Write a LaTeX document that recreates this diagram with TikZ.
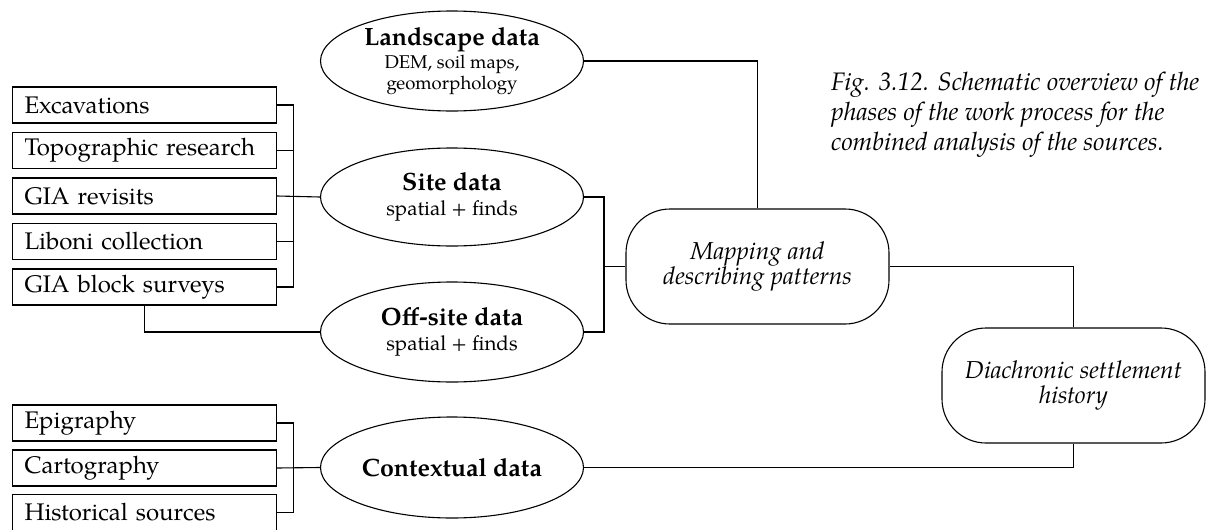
\documentclass[tikz,border=0pt]{standalone}
\usepackage{fontspec}
\setmainfont{TeX Gyre Pagella}
\usetikzlibrary{shapes.geometric}
\tikzset{
  line/.style={line width=1.1pt},
  srcbox/.style={draw, line width=1.1pt, minimum height=36pt, text width=240pt, inner xsep=12pt, inner ysep=0pt, align=left, anchor=west, font=\fontsize{24}{26}\selectfont},
  dataell/.style={draw, ellipse, line width=1.1pt, minimum width=263pt, minimum height=100pt, inner sep=0pt, align=center},
  phase/.style={draw, rectangle, rounded corners=44pt, line width=1.1pt, minimum width=263pt, minimum height=115pt, inner sep=0pt, align=center, font=\fontsize{24.5}{25}\selectfont\itshape},
}
\newcommand{\ttlfont}{\fontsize{25}{25}\selectfont\bfseries}
\newcommand{\subfont}{\fontsize{20.5}{25}\selectfont}
\begin{document}
\begin{tikzpicture}[x=1pt,y=-1pt]
\useasboundingbox (0,0) rectangle (1208,530);
% source boxes
\node[srcbox] (exc)  at (12,105) {Excavations};
\node[srcbox] (topo) at (12,150.5) {Topographic research};
\node[srcbox] (gia)  at (12,196) {GIA revisits};
\node[srcbox] (lib)  at (12,241.5) {Liboni collection};
\node[srcbox] (gbs)  at (12,287) {GIA block surveys};
\node[srcbox] (epi)  at (12,423) {Epigraphy};
\node[srcbox] (cart) at (12,468) {Cartography};
\node[srcbox] (hist) at (12,512.5) {Historical sources};
% data ellipses
\node[dataell, font=\fontsize{18.5}{21}\selectfont] (land) at (452,61) {{\ttlfont Landscape data}\\[2pt]DEM, soil maps,\\geomorphology};
\node[dataell, minimum height=98pt, font=\subfont] (site) at (452,197) {{\ttlfont Site data}\\spatial + finds};
\node[dataell, font=\subfont] (off) at (452,332) {{\ttlfont Off-site data}\\spatial + finds};
\node[dataell, minimum height=101pt] (ctx) at (452,467.5) {{\ttlfont Contextual data}};
% phases
\node[phase] (map) at (757.5,266.5) {Mapping and\\describing patterns};
\node[phase] (dia) at (1073.5,385.5) {Diachronic settlement\\history};
% caption
\node[anchor=north west, align=left, inner sep=0pt, font=\fontsize{25.3}{30}\selectfont\itshape] (cap) at (831,72) {Fig. 3.12. Schematic overview of the\\phases of the work process for the\\combined analysis of the sources.};
% connectors
\draw[line] (exc.east) -- ++(16,0) coordinate (b1) |- (gbs.east);
\draw[line] (topo.east) -- (topo.east -| b1);
\draw[line] (lib.east) -- (lib.east -| b1);
\draw[line] (gia.east) -- (site.west);
\draw[line] (gbs.south) |- (off.west);
\coordinate (jr) at (604,266.5);
\draw[line] (site.east) -| (jr) |- (off.east);
\draw[line] (jr) -- (map.west);
\draw[line] (land.east) -| (map.north);
\draw[line] (map.east) -| (dia.north);
\draw[line] (ctx.east) -| (dia.south);
\draw[line] (epi.east) -- ++(16,0) coordinate (b2) |- (hist.east);
\draw[line] (cart.east) -- (ctx.west);
\end{tikzpicture}
\end{document}
